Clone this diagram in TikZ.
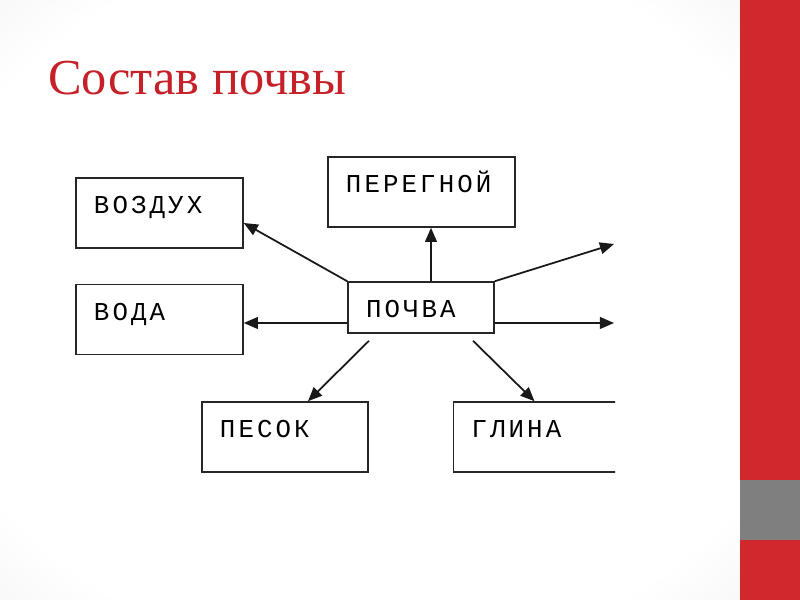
\documentclass[tikz,border=0pt]{standalone}
\usepackage{fontspec}
\setmainfont{Liberation Serif}
\newfontfamily\boxfont[LetterSpace=12]{Liberation Mono}
\usepackage{xcolor}
\usetikzlibrary{arrows.meta}
\usetikzlibrary{calc}
\usetikzlibrary{positioning}
\definecolor{titlered}{RGB}{198,32,40}
\definecolor{barred}{RGB}{209,40,45}
\definecolor{bargray}{RGB}{127,127,127}
\pgfdeclareradialshading{vignette}{\pgfpoint{0bp}{0bp}}{color(0bp)=(white); color(30bp)=(white); color(50bp)=(black!10); color(72bp)=(black!16)}

\begin{document}
\begin{tikzpicture}[x=0.03cm,y=-0.03cm,semithick]
	\tikzstyle{box}=[draw=black!85, rectangle, line width=1.3pt, inner xsep=0.54cm, inner ysep=0pt, align=left, text height=1.08cm, text depth=1.02cm, font=\boxfont\fontsize{22}{22}\selectfont]
	\tikzstyle{arr}=[draw=black!90, line width=1.5pt, -{Triangle[length=12pt,width=10pt]}]
	\useasboundingbox (0,0) rectangle (800,600);
	\shade[shading=vignette] (0,0) rectangle (740,600);
	\fill[barred] (740,0) rectangle (800,600);
	\fill[bargray] (740,480) rectangle (800,540);
	\node[anchor=base west, inner sep=0pt, text=titlered, font=\fontsize{43}{43}\selectfont] (title) at (48,95) {Состав почвы};

	\begin{scope}
		\clip (0,0) rectangle (615,600);
		\node[box, text width=3.93cm] (vozduh) at (159.5,213) {ВОЗДУХ};
		\node[box, text width=3.93cm] (voda) [below=1.05cm of vozduh] {ВОДА};
		\node[box, text width=4.53cm] (peregnoi) at (421.5,192) {ПЕРЕГНОЙ};
		\node[box, text width=3.30cm, text depth=0.45cm] (pochva) at (421,307.5) {ПОЧВА};
		\node[box, text width=3.90cm] (pesok) at (285,437) {ПЕСОК};
		\node[box, text width=3.90cm] (glina) [right=2.52cm of pesok] {ГЛИНА};
		\coordinate (upright) at (614,244);
		\coordinate (right) at (614,323);

		\draw[arr] (pochva.north west) -- ($(vozduh.east)+(0,10)$);
		\draw[arr] ($(pochva.west)+(0,15.5)$) coordinate (pw) -- (pw -| voda.east);
		\draw[arr] ($(pochva.north)+(10,0)$) coordinate (pn) -- (pn |- peregnoi.south);
		\draw[arr] (pochva.north east) -- (upright);
		\draw[arr] ($(pochva.east)+(0,15.5)$) -- (right);
		\draw[arr] ($(pochva.south)+(-52,7)$) -- ($(pesok.north)+(23,0)$);
		\draw[arr] ($(pochva.south)+(52,7)$) -- ($(glina.north)+(-2,0)$);
	\end{scope}
\end{tikzpicture}
\end{document}
